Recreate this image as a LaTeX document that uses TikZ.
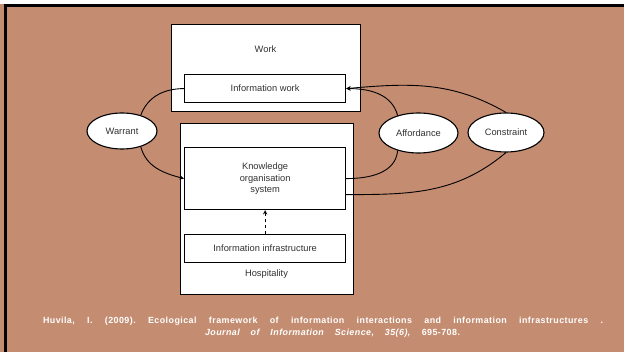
\documentclass[tikz,border=0pt]{standalone}
\usepackage{fontspec}
\setmainfont{Liberation Sans}
\usepackage{tikz}
\usetikzlibrary{calc,shapes.geometric}
\definecolor{fond}{RGB}{196,140,112}
\definecolor{gristexte}{RGB}{50,50,50}
\tikzstyle{boite} = [rectangle, draw=black, line width=1.2pt, fill=white, inner sep=0pt, text=gristexte, font=\fontsize{9.3}{11.5}\selectfont]
\tikzstyle{bulle} = [ellipse, draw=black, line width=1.1pt, fill=white, inner sep=0pt, text=gristexte, font=\fontsize{9.3}{11.5}\selectfont]
\tikzstyle{titre} = [inner sep=0pt, text=gristexte, font=\fontsize{9.3}{11.5}\selectfont]
\tikzstyle{lien} = [line width=0.9pt]
\tikzstyle{reference} = [inner sep=0pt, text=white, font=\fontsize{8.9}{10}\selectfont\bfseries\addfontfeature{LetterSpace=5}\frenchspacing]

\begin{document}
\begin{tikzpicture}[x=1pt,y=1pt]

        \useasboundingbox (0,0) rectangle (624,-352);
        \fill[white] (0,0) rectangle (624,-352);
        \fill[fond] (0,-4) rectangle (624,-352);
        \draw[line width=3pt] (3.5,-5.5) -- (624,-5.5);
        \draw[line width=3pt] (5,-4) -- (5,-352);

        \node (W) [boite, anchor=north west, minimum width=189pt, minimum height=87pt] at (171,-24) {};
        \node (TW) [titre] at (265.5,-49) {Work};
        \node (IW) [boite, anchor=north west, minimum width=161pt, minimum height=28pt] at (184,-74) {Information work};

        \node (H) [boite, anchor=north west, minimum width=173pt, minimum height=171pt] at (180,-123) {};
        \node (KOS) [boite, anchor=north west, minimum width=161pt, minimum height=62pt, align=center] at (184,-147) {Knowledge\\organisation\\system};
        \node (II) [boite, anchor=north west, minimum width=161pt, minimum height=28pt] at (184,-234) {Information infrastructure};
        \node (TH) [titre] at (266.5,-274) {Hospitality};

        \node (WR) [bulle, minimum width=70pt, minimum height=36pt] at (122,-131) {Warrant};
        \node (AF) [bulle, minimum width=79pt, minimum height=40pt] at (418.5,-133) {Affordance};
        \node (CT) [bulle, minimum width=76pt, minimum height=39pt] at (506,-132.5) {Constraint};

        \draw[lien] (WR.40) to[out=70,in=180] (IW.west);
        \draw[lien, -stealth] (WR.-40) to[out=-75,in=165] (KOS.west);

        \draw[lien, -stealth] (AF.140) to[out=105,in=0] (IW.east);
        \draw[lien, -stealth] (CT.north) to[out=150,in=5] (IW.east);
        \draw[lien] (AF.-140) to[out=-95,in=0] (KOS.east);
        \draw[lien] (CT.south) to[out=-140,in=0] ($(KOS.east)+(0,-16)$);

        \draw[lien, dashed, -stealth] (II.north) -- (KOS.south);

        \node (R1) [reference] at (323,-321) {\makebox[560pt][s]{Huvila, I. (2009). Ecological framework of information interactions and information infrastructures .}};
        \node (R2) [reference] at (332.5,-333) {\makebox[255pt][s]{\textit{Journal of Information Science, 35(6),} 695-708.}};

    \end{tikzpicture}
\end{document}
